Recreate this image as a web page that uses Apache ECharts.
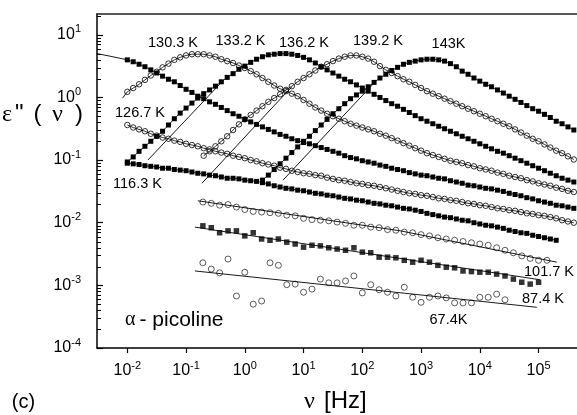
<!DOCTYPE html>
<html>
<head>
<meta charset="utf-8">
<script src="https://cdn.jsdelivr.net/npm/echarts@6.0.0/dist/echarts.min.js"></script>
<style>
html,body{margin:0;padding:0;background:#fff;}
#chart{width:577px;height:415px;}
</style>
</head>
<body>
<div id="chart"></div>
<script>
// ---- measurement frequencies, log10(nu / Hz) ----
const logFreqHi = [-2.0,-1.9,-1.8,-1.7,-1.6,-1.5,-1.4,-1.3,-1.2,-1.1,-1.0,-0.9,-0.8,-0.7,-0.6,-0.5,-0.4,-0.3,-0.2,-0.1,0.0,0.1,0.2,0.3,0.4,0.5,0.6,0.7,0.8,0.9,1.0,1.1,1.2,1.3,1.4,1.5,1.6,1.7,1.8,1.9,2.0,2.1,2.2,2.3,2.4,2.5,2.6,2.7,2.8,2.9,3.0,3.1,3.2,3.3,3.4,3.5,3.6,3.7,3.8,3.9,4.0,4.1,4.2,4.3,4.4,4.5,4.6,4.7,4.8,4.9,5.0,5.1,5.2,5.3,5.4,5.5,5.6];
const logFreqLo = [-0.714,-0.571,-0.429,-0.286,-0.143,0,0.143,0.286,0.429,0.571,0.714,0.857,1,1.143,1.286,1.429,1.571,1.714,1.857,2,2.143,2.286,2.429,2.571,2.714,2.857,3,3.143,3.286,3.429,3.571,3.714,3.857,4,4.143,4.286,4.429,4.571,4.714,4.857,5,5.143];

// ---- tick labels (powers of ten) ----
const xTickExp = [-2,-1,0,1,2,3,4,5];
const yTickExp = [-4,-3,-2,-1,0,1];
const yMinorMant = [2,3,4,5,6,7,8,9];

// ---- log10(eps'') values ----
const eps143 = [-1.32,-1.24,-1.15,-1.06,-0.97,-0.88,-0.79,-0.70,
  -0.62,-0.53,-0.44,-0.35,-0.26,-0.18,-0.10,-0.02,0.04,0.10,
  0.17,0.24,0.31,0.37,0.43,0.48,0.53,0.56,0.58,0.60,
  0.61,0.61,0.60,0.58,0.54,0.49,0.42,0.37,0.31,0.26,
  0.21,0.17,0.12,0.07,0.02,-0.03,-0.08,-0.13,-0.18,-0.22,
  -0.27,-0.32,-0.38,-0.42,-0.47,-0.52];
const eps139 = [-0.93,-0.86,-0.78,-0.70,-0.62,-0.52,-0.43,-0.35,
  -0.28,-0.21,-0.14,-0.07,-0.01,0.05,0.12,0.18,0.25,0.31,
  0.37,0.43,0.49,0.53,0.58,0.62,0.65,0.67,0.67,0.65,
  0.62,0.57,0.50,0.44,0.39,0.34,0.29,0.25,0.20,0.15,
  0.10,0.06,0.02,-0.02,-0.06,-0.10,-0.14,-0.18,-0.22,-0.26,
  -0.30,-0.34,-0.38,-0.42,-0.46,-0.51,-0.56,-0.61,-0.66,-0.70,
  -0.75,-0.80,-0.85,-0.89,-0.94,-0.99];
const eps136 = [-1.03,-0.95,-0.86,-0.78,-0.70,-0.62,-0.54,-0.44,-0.34,-0.25,
  -0.17,-0.09,-0.01,0.06,0.12,0.18,0.25,0.32,0.38,0.45,
  0.50,0.56,0.61,0.65,0.68,0.69,0.70,0.70,0.69,0.67,
  0.64,0.60,0.55,0.49,0.44,0.39,0.34,0.29,0.25,0.20,
  0.15,0.10,0.05,0.00,-0.05,-0.10,-0.14,-0.19,-0.24,-0.29,
  -0.34,-0.38,-0.42,-0.46,-0.50,-0.54,-0.58,-0.62,-0.66,-0.70,
  -0.74,-0.78,-0.82,-0.86,-0.89,-0.93,-0.97,-1.01,-1.05,-1.09,
  -1.13,-1.17,-1.21,-1.25,-1.29,-1.32,-1.35];
const eps133 = [0.09,0.15,0.21,0.28,0.35,0.41,0.48,0.54,0.60,0.64,
  0.67,0.69,0.69,0.69,0.67,0.65,0.61,0.58,0.55,0.51,
  0.47,0.42,0.37,0.31,0.25,0.19,0.14,0.10,0.06,0.02,
  -0.04,-0.10,-0.16,-0.21,-0.26,-0.30,-0.34,-0.38,-0.42,-0.45,
  -0.48,-0.51,-0.54,-0.58,-0.61,-0.65,-0.69,-0.73,-0.77,-0.81,
  -0.85,-0.89,-0.92,-0.95,-0.98,-1.01,-1.03,-1.05,-1.08,-1.10,
  -1.13,-1.15,-1.17,-1.20,-1.22,-1.25,-1.27,-1.29,-1.32,-1.34,
  -1.37,-1.39,-1.41,-1.44,-1.46,-1.49,-1.51];
const eps130 = [0.60,0.57,0.53,0.49,0.44,0.39,0.34,0.29,0.25,0.19,
  0.13,0.08,0.02,-0.02,-0.07,-0.11,-0.16,-0.21,-0.26,-0.30,
  -0.35,-0.39,-0.43,-0.47,-0.51,-0.55,-0.59,-0.62,-0.66,-0.69,
  -0.72,-0.74,-0.77,-0.80,-0.83,-0.86,-0.89,-0.93,-0.96,-0.98,
  -1.01,-1.03,-1.05,-1.08,-1.10,-1.13,-1.15,-1.17,-1.20,-1.22,
  -1.24,-1.25,-1.27,-1.29,-1.30,-1.33,-1.35,-1.37,-1.40,-1.41,
  -1.43,-1.45,-1.46,-1.48,-1.50,-1.53,-1.55,-1.57,-1.60,-1.62,
  -1.65,-1.67,-1.69,-1.72,-1.73,-1.75,-1.77];
const eps126 = [-0.44,-0.48,-0.51,-0.54,-0.58,-0.61,-0.64,-0.66,-0.69,-0.71,
  -0.74,-0.76,-0.78,-0.81,-0.83,-0.86,-0.88,-0.90,-0.93,-0.95,
  -0.97,-1.00,-1.02,-1.05,-1.07,-1.09,-1.12,-1.14,-1.17,-1.19,
  -1.21,-1.22,-1.24,-1.25,-1.28,-1.30,-1.32,-1.33,-1.35,-1.37,
  -1.38,-1.40,-1.41,-1.43,-1.45,-1.47,-1.49,-1.51,-1.53,-1.54,
  -1.56,-1.57,-1.59,-1.61,-1.62,-1.64,-1.65,-1.67,-1.69,-1.70,
  -1.72,-1.73,-1.75,-1.77,-1.78,-1.80,-1.81,-1.83,-1.85,-1.86,
  -1.88,-1.89,-1.91,-1.93,-1.96,-1.98,-2.00];
const eps116 = [-1.05,-1.06,-1.07,-1.09,-1.10,-1.11,-1.13,-1.13,-1.15,-1.16,
  -1.17,-1.19,-1.21,-1.22,-1.24,-1.25,-1.27,-1.29,-1.29,-1.30,
  -1.32,-1.33,-1.34,-1.36,-1.38,-1.41,-1.43,-1.45,-1.46,-1.48,
  -1.49,-1.51,-1.53,-1.54,-1.56,-1.57,-1.59,-1.61,-1.62,-1.64,
  -1.65,-1.67,-1.69,-1.70,-1.72,-1.73,-1.75,-1.77,-1.78,-1.80,
  -1.82,-1.85,-1.87,-1.89,-1.91,-1.92,-1.94,-1.96,-1.97,-2.00,
  -2.02,-2.04,-2.05,-2.07,-2.09,-2.12,-2.14,-2.16,-2.17,-2.20,
  -2.22,-2.24,-2.26,-2.28];
const eps101 = [-1.67,-1.69,-1.72,-1.71,-1.75,-1.79,-1.82,-1.83,-1.84,-1.85,
  -1.88,-1.89,-1.93,-1.95,-1.96,-1.97,-1.99,-2.01,-2.04,-2.04,
  -2.07,-2.08,-2.11,-2.12,-2.15,-2.16,-2.19,-2.21,-2.24,-2.26,
  -2.28,-2.30,-2.32,-2.34,-2.36,-2.40,-2.44,-2.48,-2.53,-2.57,
  -2.60,-2.60];
const eps87 = [-2.05,-2.08,-2.16,-2.13,-2.13,-2.21,-2.16,-2.26,-2.28,-2.26,
  -2.31,-2.34,-2.39,-2.36,-2.37,-2.40,-2.42,-2.44,-2.40,-2.47,
  -2.48,-2.55,-2.55,-2.56,-2.60,-2.63,-2.60,-2.63,-2.68,-2.71,
  -2.72,-2.77,-2.78,-2.79,-2.79,-2.82,-2.85,-2.90,-2.95,-2.98,
  -2.95];
const eps67 = [-2.64,-2.74,-2.80,-2.58,-3.17,-2.79,-3.30,-3.25,-2.64,-2.68,
  -2.99,-2.98,-3.11,-3.06,-2.90,-2.96,-2.96,-2.93,-2.85,-3.12,
  -2.99,-3.07,-3.11,-3.17,-3.03,-3.19,-3.27,-3.19,-3.17,-3.20,
  -3.28,-3.28,-3.28,-3.19,-3.19,-3.14,-3.23];

// ---- fit lines (log10 nu, log10 eps'') ----
const fit67Freq = [-0.85, 4.97], fit67Eps = [-2.77, -3.35];
const fit87Freq = [-0.85, 5.02], fit87Eps = [-2.07, -2.91];
const fit101Freq = [-0.80, 2.65, 5.31], fit101Eps = [-1.65, -2.13, -2.63];
const fit130Freq = [-2.52, -2.30, -2.00], fit130Eps = [0.70, 0.66, 0.60];
const fit133Freq = [-2.08, -2.00], fit133Eps = [-0.01, 0.09];
const fit136Freq = [-1.65, -0.63, -0.37], fit136Eps = [-1.00, 0.01, 0.27];
const fit139Freq = [-0.73, 0.43, 0.80], fit139Eps = [-1.37, -0.20, 0.17];
const fit143Freq = [0.65, 2.20], fit143Eps = [-1.32, 0.23];

const SANS = 'Liberation Sans', SERIF = 'Liberation Serif';

function pairs(freq, start, eps) { return eps.map((e, i) => [freq[start + i], e]); }
function zip(f, e) { return f.map((v, i) => [v, e[i]]); }

const hiDefs = [
  { f: logFreqHi, s: 23, e: eps143, filled: true },
  { f: logFreqHi, s: 13, e: eps139, filled: false },
  { f: logFreqHi, s: 0, e: eps136, filled: true },
  { f: logFreqHi, s: 0, e: eps133, filled: false },
  { f: logFreqHi, s: 0, e: eps130, filled: true },
  { f: logFreqHi, s: 0, e: eps126, filled: false },
  { f: logFreqHi, s: 0, e: eps116, filled: true }
];
const loDefs = [
  { f: logFreqLo, s: 0, e: eps101, filled: false },
  { f: logFreqLo, s: 0, e: eps87, filled: true },
  { f: logFreqLo, s: 0, e: eps67, filled: false }
];
const fits = [
  zip(fit67Freq, fit67Eps), zip(fit87Freq, fit87Eps), zip(fit101Freq, fit101Eps),
  zip(fit130Freq, fit130Eps), zip(fit133Freq, fit133Eps), zip(fit136Freq, fit136Eps),
  zip(fit139Freq, fit139Eps), zip(fit143Freq, fit143Eps)
];

const X_MIN = -2.516, X_MAX = 5.654, Y_MIN = -4, Y_MAX = 1.332;

function itemStyleFor(filled) {
  return filled ? { color: '#000' }
                : { color: 'rgba(0,0,0,0)', borderColor: '#000', borderWidth: 0.8 };
}

const series = [];
fits.forEach(d => series.push({
  type: 'line', data: d, symbol: 'none', silent: true, animation: false, z: 2,
  lineStyle: { color: '#000', width: 0.9 }
}));
hiDefs.forEach(d => series.push({
  type: 'line', data: pairs(d.f, d.s, d.e), silent: true, animation: false, z: 3,
  symbol: d.filled ? 'rect' : 'circle', symbolSize: d.filled ? 5 : 5.5, showSymbol: true,
  itemStyle: itemStyleFor(d.filled),
  lineStyle: { color: '#000', width: 0.8 }
}));
loDefs.forEach(d => series.push({
  type: 'scatter', data: pairs(d.f, d.s, d.e), silent: true, animation: false, z: 3,
  symbol: d.filled ? 'rect' : 'circle', symbolSize: d.filled ? 5.5 : 6,
  itemStyle: itemStyleFor(d.filled)
}));

// log-spaced minor ticks on the left axis, placed through the y scale
const minorVals = [];
yTickExp.forEach(n => yMinorMant.forEach(m => { const v = n + Math.log10(m); if (v < Y_MAX) minorVals.push(v); }));
series.push({
  type: 'custom', silent: true, animation: false, z: 4, clip: false,
  data: minorVals.map(v => [X_MIN, v]),
  renderItem: (params, api) => {
    const p = api.coord([api.value(0), api.value(1)]);
    const y = Math.round(p[1]) + 0.5;
    return { type: 'line', shape: { x1: p[0], y1: y, x2: p[0] + 4, y2: y },
             style: { stroke: '#000', lineWidth: 1 } };
  }
});

const tickRich = {
  b: { fontSize: 16, fontFamily: SANS, color: '#000', lineHeight: 22 },
  s: { fontSize: 11, fontFamily: SANS, color: '#000', lineHeight: 11, verticalAlign: 'top' }
};
const powFmt = v => '{b|10}{s|' + Math.round(v) + '}';

function txt(text, x, y, size, family, align) {
  return { type: 'text', x: x, y: y, silent: true,
    style: { text: text, fill: '#000', fontSize: size, fontFamily: family,
             align: align || 'center', verticalAlign: 'middle' } };
}
const graphics = [
  txt('130.3 K', 173, 43, 14.5, SANS), txt('133.2 K', 240.5, 41, 14.5, SANS),
  txt('136.2 K', 304, 43, 14.5, SANS), txt('139.2 K', 378, 41, 14.5, SANS),
  txt('143K', 448.5, 44, 14.5, SANS), txt('126.7 K', 140, 113, 14.5, SANS),
  txt('116.3 K', 137.5, 184, 14.5, SANS), txt('101.7 K', 549, 272, 14.5, SANS),
  txt('87.4 K', 543, 299, 14.5, SANS), txt('67.4K', 448.5, 320, 14.5, SANS),
  txt('α', 125, 320, 20, SERIF, 'left'), txt('- picoline', 139.5, 320, 21, SANS, 'left'),
  txt('ε', 2, 114.5, 24, SERIF, 'left'), txt('"', 15, 114.5, 24, SANS, 'left'),
  txt('(', 37.5, 114.5, 24, SANS), txt('ν', 57.5, 114.5, 24, SERIF), txt(')', 79, 114.5, 24, SANS),
  txt('ν', 309.5, 401.5, 24, SERIF), txt('[Hz]', 324, 401.5, 24, SANS, 'left'),
  txt('(c)', 23.5, 402.5, 20, SANS)
];

const chart = echarts.init(document.getElementById('chart'), null, { renderer: 'canvas' });
chart.setOption({
  animation: false,
  backgroundColor: '#fff',
  grid: { left: 97, right: 0, top: 14, bottom: 67, containLabel: false },
  xAxis: [
    { type: 'value', min: X_MIN, max: X_MAX, position: 'bottom',
      axisLine: { show: true, onZero: false, lineStyle: { color: '#000', width: 1.5 } },
      axisTick: { show: true, inside: false, length: 5, customValues: xTickExp, lineStyle: { color: '#000', width: 1.2 } },
      axisLabel: { show: true, margin: 12, customValues: xTickExp, formatter: powFmt, rich: tickRich },
      splitLine: { show: false } },
    { type: 'value', min: X_MIN, max: X_MAX, position: 'top',
      axisLine: { show: true, onZero: false, lineStyle: { color: '#222', width: 1.5 } },
      axisTick: { show: false }, axisLabel: { show: false }, splitLine: { show: false } }
  ],
  yAxis: [
    { type: 'value', min: Y_MIN, max: Y_MAX, position: 'left',
      axisLine: { show: true, onZero: false, lineStyle: { color: '#000', width: 1.5 } },
      axisTick: { show: true, inside: true, length: 6, customValues: yTickExp, lineStyle: { color: '#000', width: 1.2 } },
      axisLabel: { show: true, margin: 16, customValues: yTickExp, formatter: powFmt, rich: tickRich },
      splitLine: { show: false } }
  ],
  series: series,
  graphic: graphics
});
</script>
</body>
</html>
